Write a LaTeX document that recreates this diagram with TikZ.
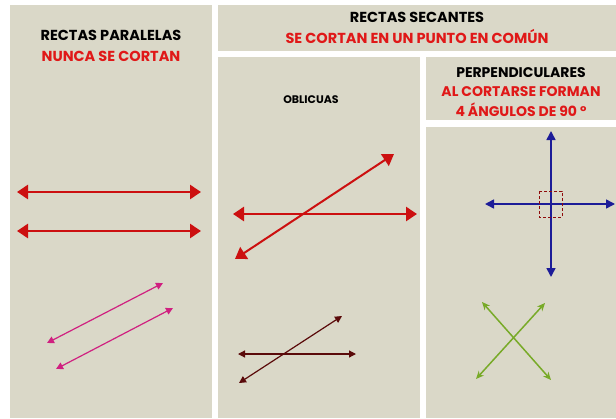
\documentclass[tikz,border=0pt]{standalone}
\usepackage{fontspec}
\setmainfont{Poppins}
\usetikzlibrary{arrows.meta}
\definecolor{panelbg}{HTML}{DAD8C8}
\definecolor{titlered}{HTML}{E01818}
\definecolor{linered}{HTML}{CC1010}
\definecolor{linepink}{HTML}{D02080}
\definecolor{linebrown}{HTML}{5A0A0A}
\definecolor{lineblue}{HTML}{1C1C98}
\definecolor{linegreen}{HTML}{78AA28}
\begin{document}
\begin{tikzpicture}[x=1pt,y=-1pt,
    panel/.style = {fill=panelbg, draw=none},
    title/.style = {font=\bfseries\fontsize{14.5}{21}\selectfont, align=center, inner sep=0pt},
    big/.style = {line width=2.6pt, color=linered, {Triangle[length=11pt,width=14pt]}-{Triangle[length=11pt,width=14pt]}},
    thin/.style = {line width=1.2pt, {Triangle[length=7pt,width=7pt]}-{Triangle[length=7pt,width=7pt]}}]
        \useasboundingbox (0,0) rectangle (616,418);
        \fill[white] (0,0) rectangle (616,418);
        % panels
        \fill[panel] (10,5) rectangle (212,418);
        \fill[panel] (218,5) rectangle (616,51);
        \fill[panel] (218,57) rectangle (420,418);
        \fill[panel] (426,57) rectangle (616,120);
        \fill[panel] (426,127) rectangle (616,418);
        % titles
        \node[title] (par) at (111,46) {RECTAS PARALELAS\\\textcolor{titlered}{NUNCA SE CORTAN}};
        \node[title] (sec) at (417,28) {RECTAS SECANTES\\\textcolor{titlered}{SE CORTAN EN UN PUNTO EN COMÚN}};
        \node[title, font=\bfseries\fontsize{11}{13}\selectfont] (obl) at (311,100) {OBLICUAS};
        \node[title, text=titlered, font=\bfseries\fontsize{14}{19.5}\selectfont] (per) at (521,92) {\textcolor{black}{PERPENDICULARES}\\AL CORTARSE FORMAN\\4 ÁNGULOS DE 90 º};
        % rectas paralelas
        \coordinate (1) at (17,192);  \coordinate (2) at (201,192);
        \coordinate (3) at (17,231);  \coordinate (4) at (201,231);
        \coordinate (5) at (47,343);  \coordinate (6) at (163,283);
        \coordinate (7) at (56,369);  \coordinate (8) at (173,308);
        \draw[big] (1) -- (2);
        \draw[big] (3) -- (4);
        \draw[thin, linepink] (5) -- (6);
        \draw[thin, linepink] (7) -- (8);
        % oblicuas
        \coordinate (9) at (233,214);   \coordinate (10) at (417,214);
        \coordinate (11) at (235,259);  \coordinate (12) at (394,154);
        \coordinate (13) at (238,354);  \coordinate (14) at (356,354);
        \coordinate (15) at (239,383);  \coordinate (16) at (342,316);
        \draw[big] (9) -- (10);
        \draw[big, line width=2pt] (11) -- (12);
        \draw[thin, linebrown] (13) -- (14);
        \draw[thin, linebrown] (15) -- (16);
        % perpendiculares
        \coordinate (17) at (485,204);  \coordinate (18) at (615,204);
        \coordinate (19) at (551,131);  \coordinate (20) at (551,277);
        \draw[thin, lineblue, line width=1.6pt, {Triangle[length=9pt,width=9pt]}-{Triangle[length=9pt,width=9pt]}] (17) -- (18);
        \draw[thin, lineblue, line width=1.6pt, {Triangle[length=9pt,width=9pt]}-{Triangle[length=9pt,width=9pt]}] (19) -- (20);
        \draw[dashed, linered!70!black, line width=0.6pt, dash pattern=on 3pt off 2pt] (539,191) rectangle (562,217);
        \coordinate (21) at (482,302);  \coordinate (22) at (551,380);
        \coordinate (23) at (545,303);  \coordinate (24) at (476,379);
        \draw[thin, linegreen, line width=1.5pt, {Stealth[length=8pt,width=7pt]}-{Stealth[length=8pt,width=7pt]}] (21) -- (22);
        \draw[thin, linegreen, line width=1.5pt, {Stealth[length=8pt,width=7pt]}-{Stealth[length=8pt,width=7pt]}] (23) -- (24);
\end{tikzpicture}
\end{document}
